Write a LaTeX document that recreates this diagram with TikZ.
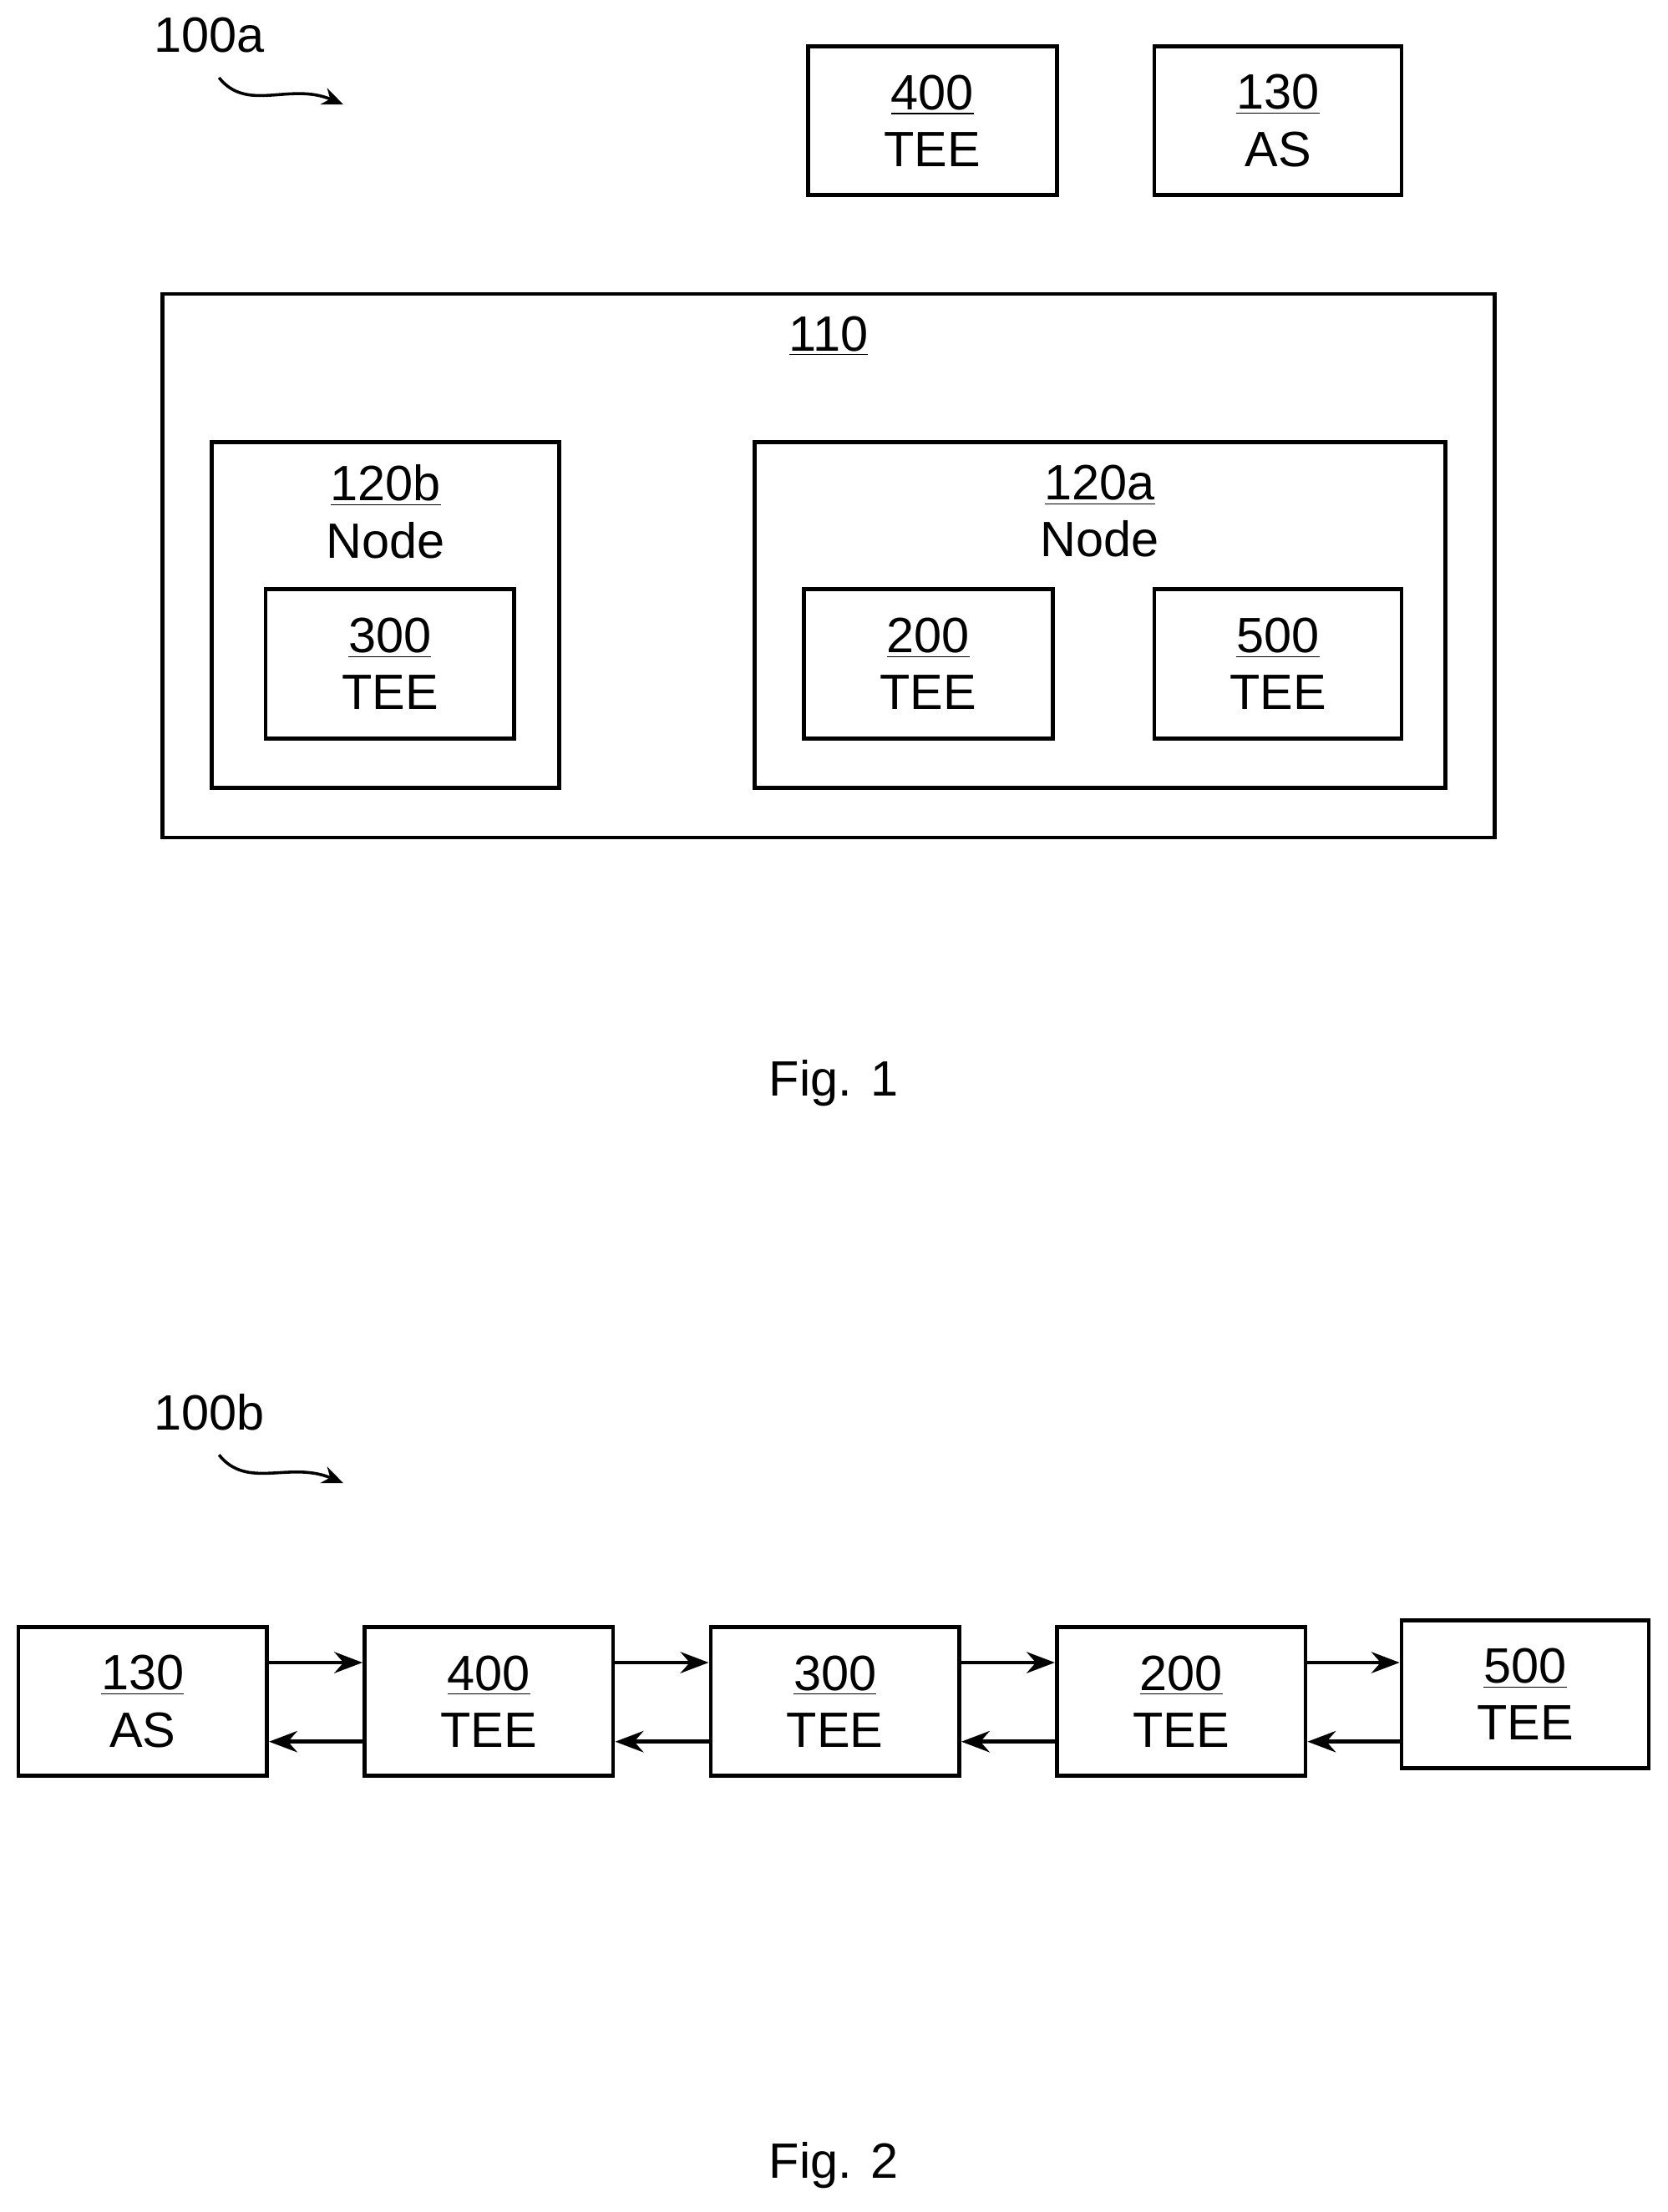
\documentclass[tikz,border=0pt]{standalone}
\usepackage{fontspec}
\setmainfont{Liberation Sans}
\usetikzlibrary{arrows.meta,positioning,calc}

\tikzset{
  box/.style={draw, line width=1.6pt, align=center, inner sep=0pt,
    font=\fontsize{20}{23}\selectfont},
  arr/.style={-{Stealth[length=4mm,width=3mm]}, line width=1.6pt},
  squig/.style={-{Stealth[length=3mm,width=2.5mm]}, line width=1.2pt},
  lbl/.style={font=\fontsize{20}{23}\selectfont}
}

\begin{document}
\begin{tikzpicture}[x=0.02cm,y=-0.02cm]
        \useasboundingbox (0,0) rectangle (1180,1566);

        % ================== Fig. 1 ==================
        \node[lbl] (ref1) at (148,25) {100a};
        \coordinate (sq1a) at (155,55);
        \coordinate (sq1b) at (243,74);
        \draw[squig] (sq1a) .. controls (175,80) and (205,58) .. (sq1b);

        % top boxes
        \node[box, minimum width=3.52cm, minimum height=2.1cm] (tee4) at (660,85.5) {\underline{400}\\TEE};
        \node[box, minimum width=3.5cm, minimum height=2.1cm] (as) at (904.5,85.5) {\underline{130}\\AS};

        % outer system box
        \node[box, minimum width=18.86cm, minimum height=7.7cm] (sys) at (586.5,400.5) {};
        \node[lbl] (syslbl) at (586.5,238) {\underline{110}};

        % node 120b
        \node[box, minimum width=4.92cm, minimum height=4.9cm] (nodeb) at (273,435.5) {};
        \node[lbl, align=center, anchor=north] (nodeblbl) at (273,323) {\underline{120b}\\Node};
        \node[box, minimum width=3.52cm, minimum height=2.12cm] (tee3) at (276,470) {\underline{300}\\TEE};

        % node 120a
        \node[box, minimum width=9.78cm, minimum height=4.9cm] (nodea) at (778.5,435.5) {};
        \node[lbl, align=center, anchor=north] (nodealbl) at (778.5,323) {\underline{120a}\\Node};
        \node[box, minimum width=3.52cm, minimum height=2.12cm] (tee2) at (657,470) {\underline{200}\\TEE};
        \node[box, minimum width=3.5cm, minimum height=2.12cm] (tee5) at (904.5,470) {\underline{500}\\TEE};

        \node[lbl] (fig1) at (590,767) {Fig. 1};

        % ================== Fig. 2 ==================
        \node[lbl] (ref2) at (148,1000) {100b};
        \coordinate (sq2a) at (155,1030);
        \coordinate (sq2b) at (243,1050);
        \draw[squig] (sq2a) .. controls (175,1055) and (205,1034) .. (sq2b);

        \node[box, minimum width=3.52cm, minimum height=2.1cm] (bas) at (101,1204.5) {\underline{130}\\AS};
        \node[box, minimum width=3.52cm, minimum height=2.1cm] (btee4) at (346,1204.5) {\underline{400}\\TEE};
        \node[box, minimum width=3.52cm, minimum height=2.1cm] (btee3) at (591,1204.5) {\underline{300}\\TEE};
        \node[box, minimum width=3.52cm, minimum height=2.1cm] (btee2) at (836,1204.5) {\underline{200}\\TEE};
        \node[box, minimum width=3.5cm, minimum height=2.1cm] (btee5) at (1079.5,1199.5) {\underline{500}\\TEE};

        % arrows between boxes
        \foreach \a/\b in {bas/btee4, btee4/btee3, btee3/btee2, btee2/btee5}{
          \draw[arr] ([yshift=5.5mm]\a.east) -- ([yshift=5.5mm]\a.east -| \b.west);
          \draw[arr] ([yshift=-5.7mm]\a.east -| \b.west) -- ([yshift=-5.7mm]\a.east);
        }

        \node[lbl] (fig2) at (590,1533) {Fig. 2};
\end{tikzpicture}
\end{document}
